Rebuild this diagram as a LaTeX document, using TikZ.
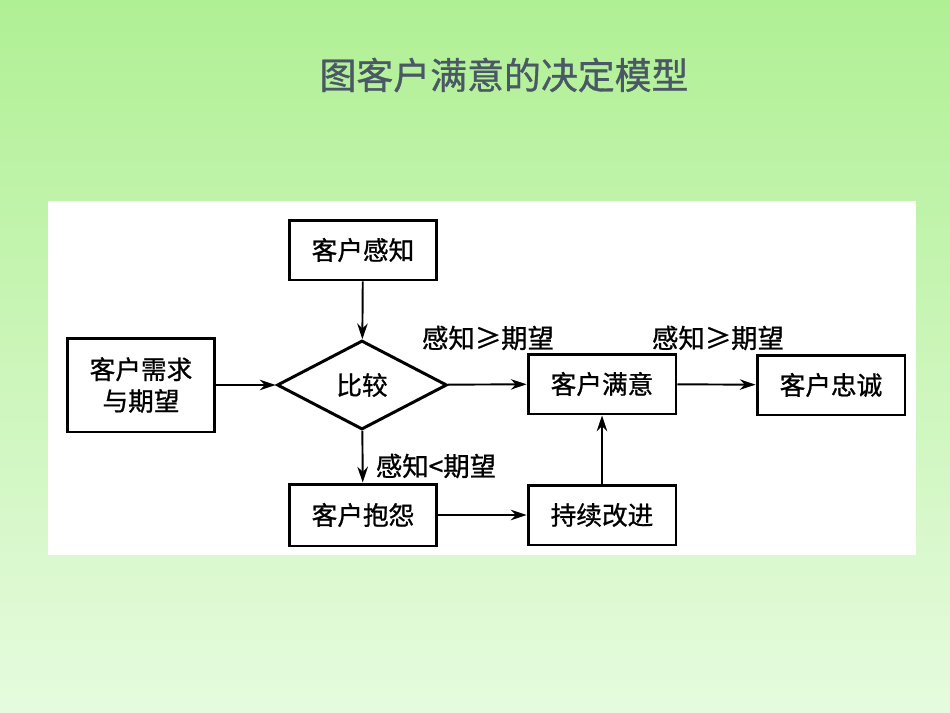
\documentclass[tikz,border=0pt]{standalone}
\usepackage{fontspec}
\setmainfont{Noto Sans CJK SC}[FakeBold=0.9]
\usetikzlibrary{shapes.geometric,arrows.meta}
\definecolor{bgtop}{RGB}{176,240,148}
\definecolor{bgbottom}{RGB}{230,251,222}
\definecolor{titlegray}{RGB}{74,88,102}
\tikzset{
	box/.style={draw,line width=1.7pt,minimum width=2.96cm,minimum height=1.2cm,inner sep=2pt,font=\fontsize{14.6}{18}\selectfont},
	flow/.style={-{Stealth[length=9pt,width=6pt]},line width=1.1pt},
	cond/.style={font=\fontsize{15}{18}\selectfont}
}
\begin{document}
\begin{tikzpicture}[x=0.02cm,y=-0.02cm]
			\useasboundingbox (0,0) rectangle (950,713);
			\shade[top color=bgtop,bottom color=bgbottom] (0,0) rectangle (950,713);
			\fill[white] (48,201) rectangle (916,555);
			\node[text=titlegray,font=\fontsize{21}{25}\selectfont] (title) at (504,75) {图客户满意的决定模型};
			\node[box] (perception) at (363,250) {客户感知};
			\node[box,minimum height=1.88cm,align=center] (demand) at (141,385) {客户需求\\与期望};
			\node[draw,diamond,line width=1.7pt,minimum width=3.4cm,minimum height=1.78cm,inner sep=0pt,font=\fontsize{14.6}{18}\selectfont] (compare) at (362,385) {比较};
			\node[box] (satisfy) at (602,384) {客户满意};
			\node[box] (loyal) at (831,385) {客户忠诚};
			\node[box,minimum height=1.24cm] (complain) at (363,515) {客户抱怨};
			\node[box] (improve) at (602,515) {持续改进};
			\draw[flow] (perception) -- (compare);
			\draw[flow] (demand) -- (compare);
			\draw[flow] (compare) -- (satisfy);
			\draw[flow] (satisfy) -- (loyal);
			\draw[flow] (compare) -- (complain);
			\draw[flow] (complain) -- (improve);
			\draw[flow] (improve) -- (satisfy);
			\node[cond] (okleft) at (488,338) {感知≥期望};
			\node[cond] (okright) at (718,338) {感知≥期望};
			\node[cond] (notok) at (436,466) {感知<期望};
		\end{tikzpicture}
\end{document}
